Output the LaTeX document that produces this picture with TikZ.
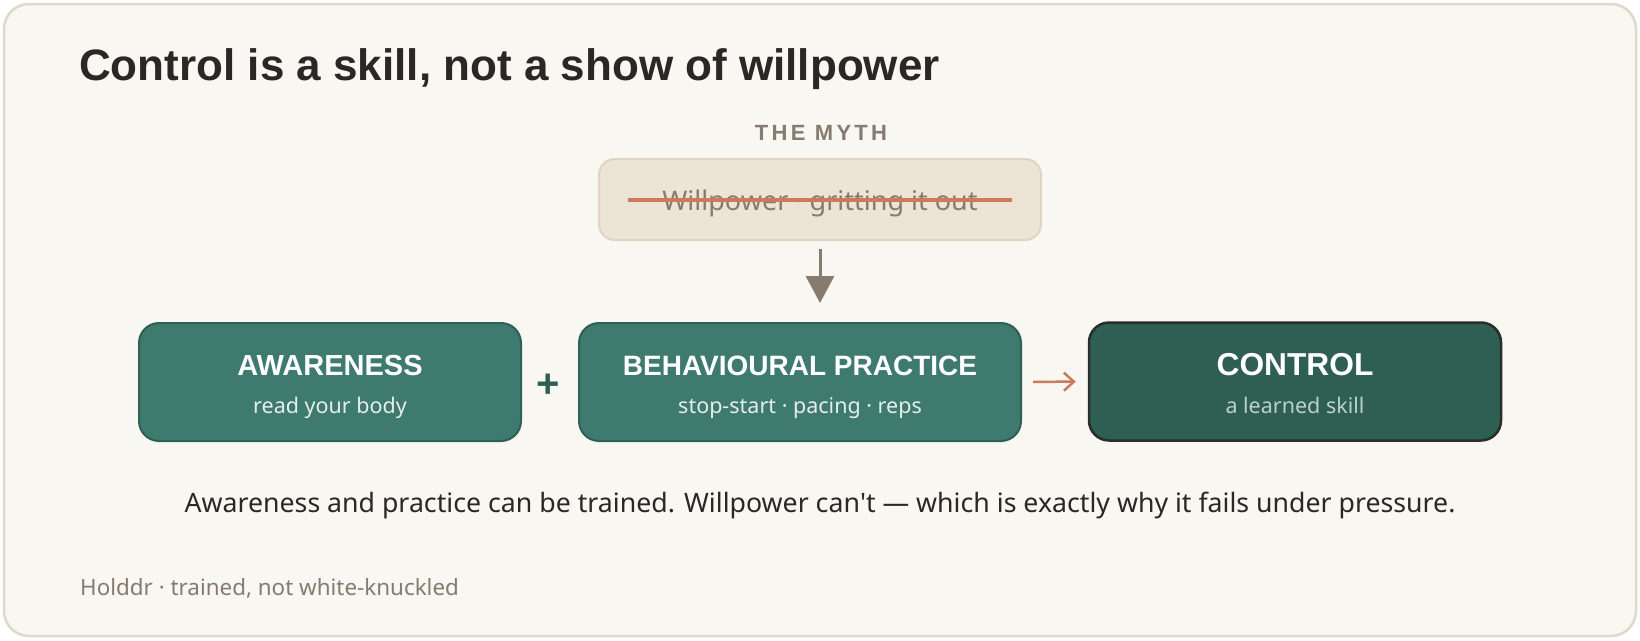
\documentclass[tikz,border=0pt]{standalone}
\usepackage{fontspec}
\setmainfont{Noto Sans}
\newfontfamily\headfont{Liberation Sans}
\usetikzlibrary{arrows.meta}

\definecolor{paper}{HTML}{F9F7F2}
\definecolor{rim}{HTML}{E0D8CB}
\definecolor{mythfill}{HTML}{EDE4D6}
\definecolor{mythrim}{HTML}{E0D4C2}
\definecolor{stone}{HTML}{857B6F}
\definecolor{clay}{HTML}{CD7A5C}
\definecolor{sage}{HTML}{3E7A6E}
\definecolor{sagerim}{HTML}{2F5F55}
\definecolor{pine}{HTML}{2F5E53}
\definecolor{pinerim}{HTML}{2A2D2A}
\definecolor{ink}{HTML}{2A2824}
\definecolor{mint}{HTML}{E4EFE9}
\definecolor{moss}{HTML}{B8D2C6}

\newcommand\px[1]{\fontsize{#1}{#1}\selectfont}

\begin{document}
\begin{tikzpicture}[x=1pt,y=-1pt,
   every node/.style={inner sep=0pt},
   stepbox/.style={draw=sagerim,fill=sage,line width=2pt,rounded corners=20pt,
      minimum height=118pt},
   goalbox/.style={draw=pinerim,fill=pine,line width=2.5pt,rounded corners=20pt,
      minimum height=118pt},
   boxhead/.style={anchor=base,text=white,font=\headfont\bfseries\px{28}},
   boxsub/.style={anchor=base,text=mint,font=\px{21.5}},
   flow/.style={draw=clay,line width=2.5pt,-{Straight Barb[length=10pt,width=18pt]}}]

\useasboundingbox[fill=white] (0,0) rectangle (1640,640);
\draw[rim,fill=paper,line width=2.5pt,rounded corners=25pt] (4,4) rectangle (1636,636);

\node[anchor=base west,text=ink,font=\headfont\bfseries\px{44}] (title) at (79,80)
   {Control is a skill, not a show of willpower};

% the myth
\node[anchor=base,text=stone,font=\headfont\bfseries\px{22}\addfontfeature{LetterSpace=15}]
   (mythlabel) at (821,140) {THE MYTH};
\node[draw=mythrim,fill=mythfill,line width=2pt,rounded corners=16pt,
   minimum width=442pt,minimum height=81pt] (myth) at (820,199.5) {};
\node[anchor=base,text=stone,font=\px{27}] (mythtext) at (820,210)
   {Willpower · gritting it out};
\draw[clay,line width=4pt] ([xshift=-192pt]myth.center) -- ([xshift=192pt]myth.center);
\coordinate (mythtip) at (820,303);
\draw[stone,line width=3pt,-{Triangle[length=27pt,width=28pt]}]
   ([yshift=-8pt]myth.south) -- (mythtip);

% the skill
\node[stepbox,minimum width=382pt] (aware) at (330,382) {};
\node[boxhead,font=\headfont\bfseries\px{29}] (awarehead) at ([yshift=7pt]aware.center) {AWARENESS};
\node[boxsub] (awaresub) at ([yshift=-31pt]aware.center) {read your body};

\node[anchor=base,text=pine,font=\headfont\bfseries\px{40}] (plus) at (548,397) {+};

\node[stepbox,minimum width=442pt] (practice) at (800,382) {};
\node[boxhead] (practicehead) at ([yshift=7pt]practice.center) {BEHAVIOURAL PRACTICE};
\node[boxsub] (practicesub) at ([yshift=-31pt]practice.center) {stop-start · pacing · reps};

\node[goalbox,minimum width=412pt] (control) at (1295,381.5) {};
\node[boxhead,font=\headfont\bfseries\px{31.7}] (controlhead) at ([yshift=6.5pt]control.center) {CONTROL};
\node[boxsub,text=moss] (controlsub) at ([yshift=-31.5pt]control.center) {a learned skill};

\draw[flow,shorten <=11pt,shorten >=12pt] (practice.east) -- (control.west);

\node[anchor=base,text=ink,font=\px{26.7}] (caption) at (820,512)
   {Awareness and practice can be trained. Willpower can\textquotesingle t — which is exactly why it fails under pressure.};
\node[anchor=base west,text=stone,font=\px{22.4}] (footer) at (80,595)
   {Holddr · trained, not white-knuckled};

\end{tikzpicture}
\end{document}
